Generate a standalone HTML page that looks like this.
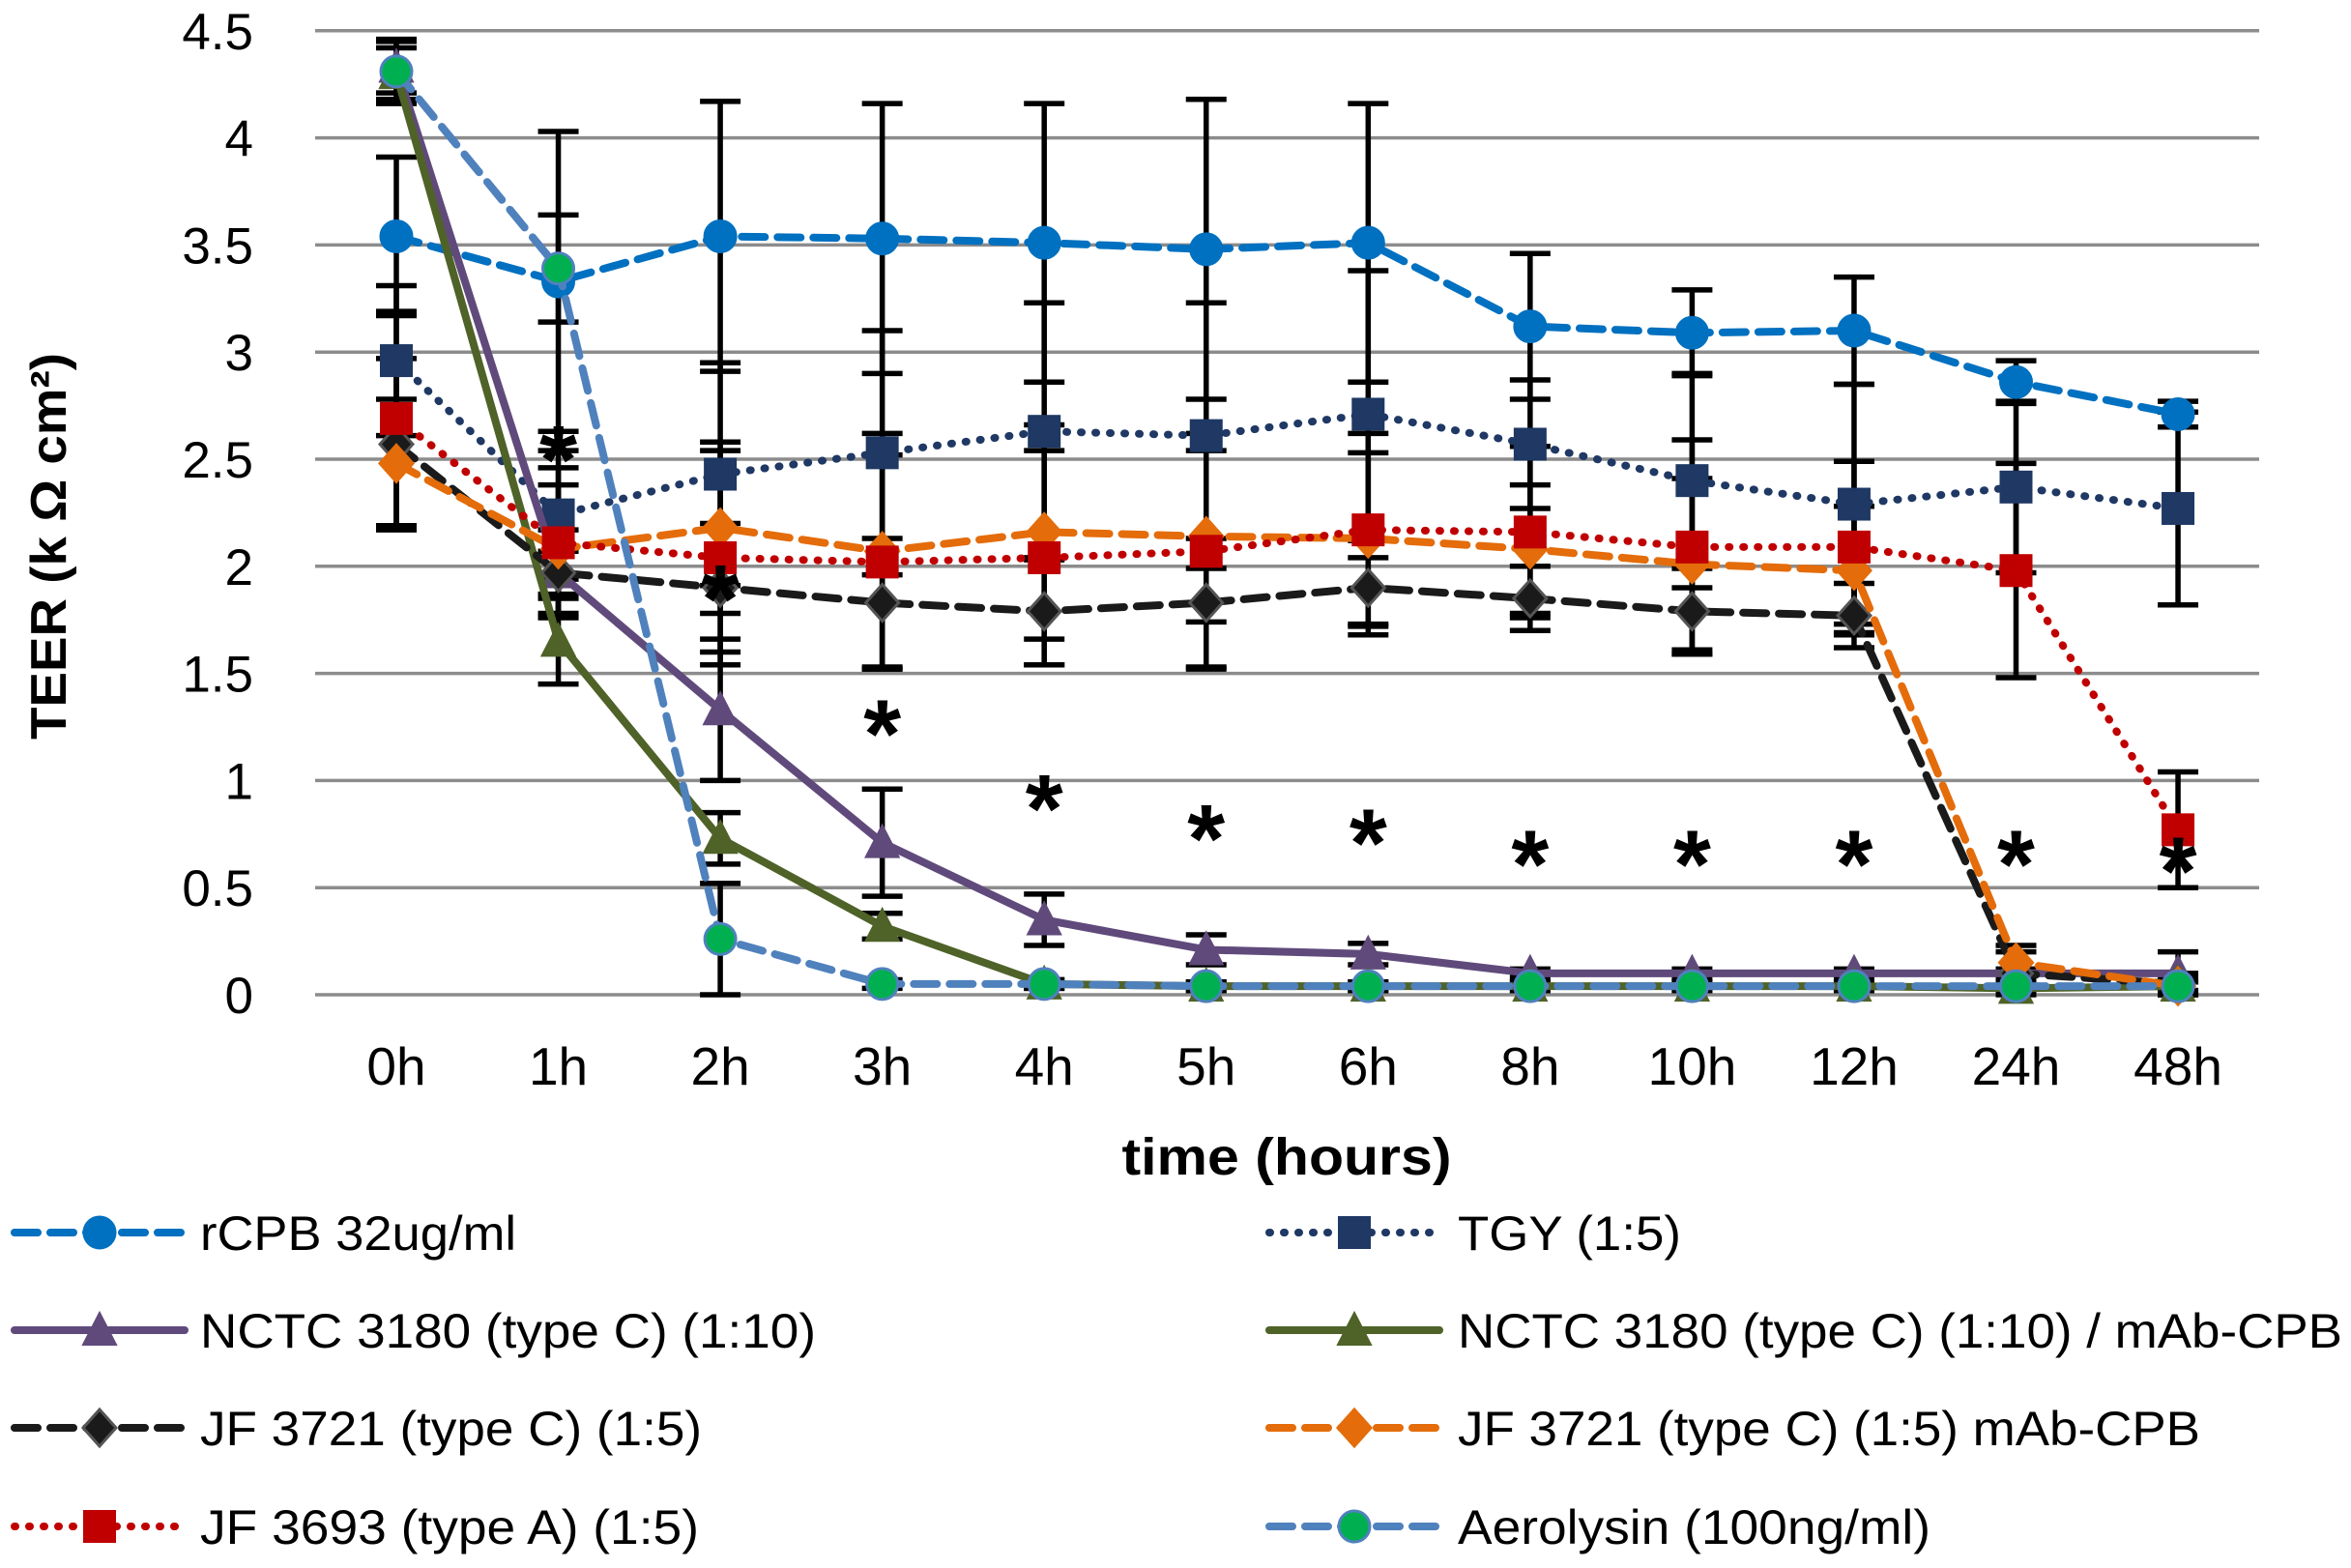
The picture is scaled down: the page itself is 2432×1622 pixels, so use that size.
<!DOCTYPE html>
<html><head><meta charset="utf-8"><style>
html,body{margin:0;padding:0;background:#fff;}
svg{display:block;font-family:"Liberation Sans",sans-serif;}
</style></head><body>
<svg id="chart" width="2432" height="1622" viewBox="0 0 2432 1622" xmlns="http://www.w3.org/2000/svg">
<g id="grid"></g>
<g id="yticks"></g>
<g id="xticks"></g>
<g id="errs"></g>
<g id="series"></g>
<g id="stars"></g>
<text transform="translate(68,565) rotate(-90)" text-anchor="middle" font-weight="bold" font-size="52" textLength="400" lengthAdjust="spacingAndGlyphs">TEER (k Ω cm²)</text>
<text x="1331" y="1215" text-anchor="middle" font-weight="bold" font-size="54" textLength="341" lengthAdjust="spacingAndGlyphs">time (hours)</text>
<g id="legend"></g>
</svg>
<script>
const categories = ["0h","1h","2h","3h","4h","5h","6h","8h","10h","12h","24h","48h"];
const yTicks = [0,0.5,1,1.5,2,2.5,3,3.5,4,4.5];
const yTickLabels = ["0","0.5","1","1.5","2","2.5","3","3.5","4","4.5"];
const rcpb = [3.54,3.33,3.54,3.53,3.51,3.48,3.51,3.12,3.09,3.10,2.86,2.71];
const rcpbErr = [0.37,0.70,0.63,0.63,0.65,0.70,0.65,0.34,0.20,0.25,0.10,0.06];
const tgy = [2.96,2.24,2.43,2.53,2.63,2.61,2.71,2.57,2.40,2.29,2.37,2.27];
const tgyErr = [0.35,0.30,0.52,0.57,0.60,0.62,0.67,0.30,0.50,0.56,0.40,0.45];
const nctc = [4.33,1.97,1.33,0.71,0.35,0.21,0.19,0.10,0.10,0.10,0.10,0.10];
const nctcErr = [0.12,0.10,0.33,0.25,0.12,0.07,0.05,0.02,0.02,0.02,0.02,0.10];
const nctcMab = [4.30,1.65,0.73,0.32,0.05,0.04,0.04,0.04,0.04,0.04,0.03,0.04];
const nctcMabErr = [0.12,0.20,0.12,0.06,0.02,0.02,0.02,0.02,0.02,0.02,0.02,0.02];
const jf3721 = [2.57,1.97,1.90,1.83,1.79,1.83,1.90,1.85,1.79,1.77,0.10,0.05];
const jf3721Err = [0.40,0.20,0.30,0.30,0.25,0.30,0.22,0.15,0.20,0.15,0.10,0.05];
const jf3721Mab = [2.48,2.08,2.18,2.07,2.16,2.14,2.13,2.08,2.01,1.98,0.15,0.04];
const jf3721MabErr = [0.30,0.30,0.40,0.55,0.50,0.40,0.40,0.30,0.40,0.30,0.08,0.04];
const jf3693 = [2.69,2.11,2.04,2.02,2.04,2.07,2.17,2.16,2.09,2.09,1.98,0.77];
const jf3693Err = [0.50,0.35,0.50,0.50,0.50,0.55,0.45,0.40,0.50,0.40,0.50,0.27];
const aero = [4.31,3.39,0.26,0.05,0.05,0.04,0.04,0.04,0.04,0.04,0.04,0.04];
const aeroErr = [0.15,0.25,0.26,0.02,0.02,0.02,0.02,0.02,0.02,0.02,0.02,0.02];
const starY = [null,2.55,1.90,1.27,0.92,0.78,0.76,0.66,0.66,0.66,0.66,0.63];

const NS="http://www.w3.org/2000/svg";
const X0=410, DX=167.55, Y0=1029, PU=221.6;
function xs(i){return X0+i*DX;}
function ys(v){return Y0-v*PU;}
function mk(tag,attrs,parent){const e=document.createElementNS(NS,tag);for(const k in attrs)e.setAttribute(k,attrs[k]);parent.appendChild(e);return e;}

const grid=document.getElementById('grid'), yt=document.getElementById('yticks'), xt=document.getElementById('xticks');
yTicks.forEach((v,i)=>{
  const l=mk('line',{x1:326,x2:2337,y1:ys(v),y2:ys(v),stroke:'#8c8c8c','stroke-width':3.5},grid);
  
  
  const t=mk('text',{x:262,y:ys(v)+19,'text-anchor':'end','font-size':53},yt);
  t.textContent=yTickLabels[i];
  
  
});
categories.forEach((c,i)=>{
  const t=mk('text',{x:xs(i),y:1122,'text-anchor':'middle','font-size':55},xt);
  t.textContent=c;
  
  
});

const series=[
 {name:'rcpb',d:rcpb,e:rcpbErr,color:'#0070C0',dash:'24 13',w:8,m:'circle',fill:'#0070C0',stroke:'#0070C0',label:'rCPB 32ug/ml',col:0,row:0,tl:327},
 {name:'tgy',d:tgy,e:tgyErr,color:'#1F3864',dash:'1 14',w:8,m:'square',fill:'#1F3864',stroke:'#1F3864',label:'TGY (1:5)',col:1,row:0,tl:231},
 {name:'nctc',d:nctc,e:nctcErr,color:'#604A7B',dash:'',w:8,m:'tri',fill:'#604A7B',stroke:'#604A7B',label:'NCTC 3180 (type C) (1:10)',col:0,row:1,tl:637},
 {name:'nctc-mab',d:nctcMab,e:nctcMabErr,color:'#4F6228',dash:'',w:8,m:'tri',fill:'#4F6228',stroke:'#4F6228',label:'NCTC 3180 (type C) (1:10) / mAb-CPB',col:1,row:1,tl:915},
 {name:'jf3721',d:jf3721,e:jf3721Err,color:'#1a1a1a',dash:'24 13',w:8,m:'diamond',fill:'#1a1a1a',stroke:'#555',label:'JF 3721 (type C) (1:5)',col:0,row:2,tl:519},
 {name:'jf3721-mab',d:jf3721Mab,e:jf3721MabErr,color:'#E46C0A',dash:'24 13',w:8,m:'diamond',fill:'#E46C0A',stroke:'#E46C0A',label:'JF 3721 (type C) (1:5) mAb-CPB',col:1,row:2,tl:768},
 {name:'jf3693',d:jf3693,e:jf3693Err,color:'#C00000',dash:'1 14',w:8,m:'square',fill:'#C00000',stroke:'#C00000',label:'JF 3693 (type A) (1:5)',col:0,row:3,tl:516},
 {name:'aerolysin',d:aero,e:aeroErr,color:'#4F81BD',dash:'24 13',w:8,m:'circle',fill:'#00B050',stroke:'#4F81BD',label:'Aerolysin (100ng/ml)',col:1,row:3,tl:489}
];

function marker(s,x,y,parent,sz){
  let el;
  if(s.m==='circle') el=mk('circle',{cx:x,cy:y,r:sz,fill:s.fill,stroke:s.stroke,'stroke-width':3},parent);
  else if(s.m==='square') el=mk('rect',{x:x-sz,y:y-sz,width:2*sz,height:2*sz,fill:s.fill,stroke:s.stroke,'stroke-width':2},parent);
  else if(s.m==='tri') el=mk('polygon',{points:`${x},${y-sz-2} ${x+sz+1},${y+sz-1} ${x-sz-1},${y+sz-1}`,fill:s.fill,stroke:s.stroke,'stroke-width':2},parent);
  else el=mk('polygon',{points:`${x},${y-sz-3} ${x+sz+1},${y} ${x},${y+sz+3} ${x-sz-1},${y}`,fill:s.fill,stroke:s.stroke,'stroke-width':3},parent);
  return el;
}

const errs=document.getElementById('errs'), sg=document.getElementById('series');
series.forEach(s=>{
  s.d.forEach((v,i)=>{
    const x=xs(i), e=s.e[i];
    const g=mk('g',{stroke:'#000','stroke-width':5.5},errs);
    
    
    mk('line',{x1:x,x2:x,y1:ys(v+e),y2:ys(Math.max(0,v-e))},g);
    mk('line',{x1:x-21,x2:x+21,y1:ys(v+e),y2:ys(v+e)},g);
    mk('line',{x1:x-21,x2:x+21,y1:ys(Math.max(0,v-e)),y2:ys(Math.max(0,v-e))},g);
  });
});
series.forEach(s=>{
  const g=mk('g',{},sg);
  
  
  const pts=s.d.map((v,i)=>xs(i)+','+ys(v)).join(' ');
  const pl=mk('polyline',{points:pts,fill:'none',stroke:s.color,'stroke-width':s.w,'stroke-dasharray':s.dash,'stroke-linecap':'round','stroke-linejoin':'round'},g);
  
  
  s.d.forEach((v,i)=>{
    const m=marker(s,xs(i),ys(v),g,16);
    
    
  });
});
const st=document.getElementById('stars');
starY.forEach((v,i)=>{
  if(v===null) return;
  const t=mk('text',{x:xs(i),y:ys(v)+46,'text-anchor':'middle','font-size':100,'font-weight':'bold'},st);
  t.textContent='*';
  
  
});

const lg=document.getElementById('legend');
const rowsY=[1275,1376,1477,1579];
series.forEach(s=>{
  const lx = s.col===0?15:1313, tx = s.col===0?207:1508, y=rowsY[s.row];
  const g=mk('g',{},lg);
  
  
  mk('line',{x1:lx,x2:lx+176,y1:y,y2:y,stroke:s.color,'stroke-width':s.w,'stroke-dasharray':s.dash,'stroke-linecap':'round'},g);
  marker(s,lx+88,y,g,16);
  const t=mk('text',{x:tx,y:y+18,'font-size':50,textLength:s.tl,lengthAdjust:'spacingAndGlyphs'},g);
  t.textContent=s.label;
});
</script>
</body></html>
